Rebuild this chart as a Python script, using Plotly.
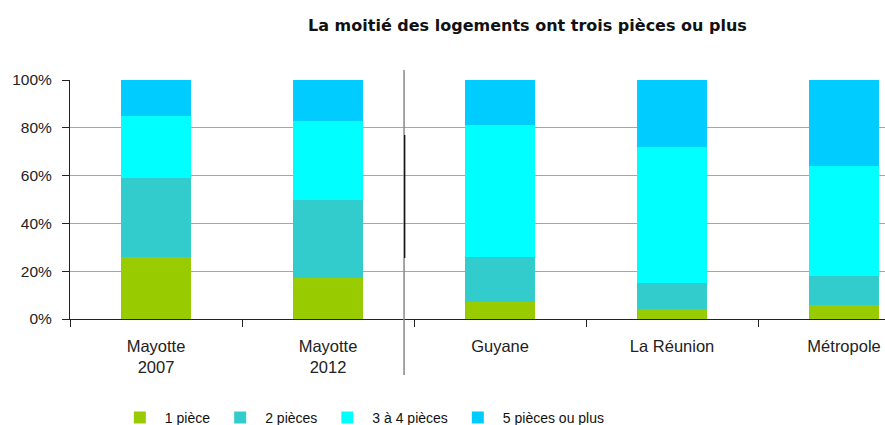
import plotly.graph_objects as go

categories = ["Mayotte<br>2007", "Mayotte<br>2012", "Guyane", "La Réunion", "Métropole"]
series_names = ["1 pièce", "2 pièces", "3 à 4 pièces", "5 pièces ou plus"]
piece_1 = [26, 17, 7, 4, 6]
pieces_2 = [33, 33, 19, 11, 12]
pieces_3_4 = [26, 33, 55, 57, 46]
pieces_5_plus = [15, 17, 19, 28, 36]
y_ticks = [0, 20, 40, 60, 80, 100]
y_tick_labels = ["0%", "20%", "40%", "60%", "80%", "100%"]
title_text = "La moitié des logements ont trois pièces ou plus"

colors = ["#99CC00", "#33CCCC", "#00FFFF", "#00CCFF"]
values = [piece_1, pieces_2, pieces_3_4, pieces_5_plus]

fig = go.Figure()
for name, vals, col in zip(series_names, values, colors):
    fig.add_trace(go.Bar(x=categories, y=vals, name=name, marker=dict(color=col, line=dict(width=0))))

font_family = "Liberation Sans, Arial, sans-serif"

# figure is a bit taller than the window so the legend (partly cut in the reference) needs no margin push
fig.update_layout(
    width=885, height=445,
    barmode="stack",
    bargap=0.593,
    plot_bgcolor="white",
    paper_bgcolor="white",
    margin=dict(l=70, r=0, t=80, b=126),
    font=dict(family=font_family, size=14, color="#222222"),
    title=dict(text="<b>" + title_text + "</b>", x=0.596, xanchor="center", y=0.943, yanchor="middle",
               font=dict(family="DejaVu Sans, sans-serif", size=16, color="#111111")),
    showlegend=True,
    legend=dict(orientation="h", x=0.055, xanchor="left", y=-0.414, yanchor="middle",
                font=dict(size=14, color="#111111"), traceorder="normal", itemwidth=40),
    xaxis=dict(
        range=[-0.5, 4.238],
        showgrid=False,
        showline=True, linecolor="#222222", linewidth=1,
        ticks="outside", tickson="boundaries", ticklen=7, tickcolor="#222222",
        tickfont=dict(size=16.5, color="#222222"),
        ticklabelstandoff=12,
    ),
    yaxis=dict(
        range=[0, 100],
        tickvals=y_ticks,
        ticktext=y_tick_labels,
        showgrid=True, gridcolor="#A6A6A6", gridwidth=1,
        showline=True, linecolor="#222222", linewidth=1,
        ticks="outside", ticklen=7, tickcolor="#222222",
        tickfont=dict(size=15.5, color="#222222"),
        ticklabelstandoff=7,
        zeroline=False,
    ),
)

# separator between Mayotte and the other territories
fig.add_shape(type="line", xref="x", yref="paper", x0=1.442, x1=1.442, y0=-0.234, y1=1.042,
              line=dict(color="#888888", width=1.5))
fig.add_shape(type="line", xref="x", yref="paper", x0=1.446, x1=1.446, y0=0.255, y1=0.77,
              line=dict(color="#000000", width=1.2))

fig.write_html("out.html", config={"displayModeBar": False},
               post_script="document.body.style.margin='0';document.body.style.overflow='hidden';")
